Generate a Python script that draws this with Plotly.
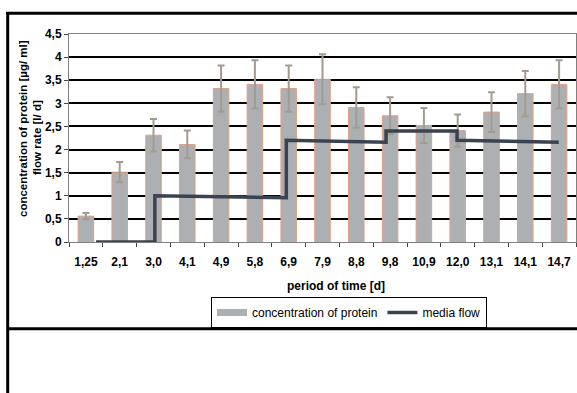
import plotly.graph_objects as go

# Sampling days (category labels)
days = ["1,25", "2,1", "3,0", "4,1", "4,9", "5,8", "6,9", "7,9",
        "8,8", "9,8", "10,9", "12,0", "13,1", "14,1", "14,7"]

# Protein concentration [µg/ml] and its standard deviation
protein = [0.56, 1.51, 2.31, 2.11, 3.32, 3.41, 3.32, 3.52,
           2.91, 2.73, 2.52, 2.41, 2.81, 3.21, 3.41]
protein_sd = [0.07, 0.22, 0.35, 0.30, 0.50, 0.52, 0.50, 0.54,
              0.44, 0.40, 0.38, 0.35, 0.43, 0.49, 0.52]

# Media flow rate [l/d], given as a step profile over the category positions
flow_pos = [0.30, 2.04, 2.04, 5.93, 5.93, 8.88, 8.88, 10.98, 10.98, 13.99]
flow_rate = [0.0, 0.0, 1.0, 0.96, 2.2, 2.16, 2.4, 2.4, 2.2, 2.16]

# y-axis ticks
y_ticks = [0, 0.5, 1, 1.5, 2, 2.5, 3, 3.5, 4, 4.5]
y_ticktext = ["0", "0,5", "1", "1,5", "2", "2,5", "3", "3,5", "4", "4,5"]

FONT = "Liberation Sans, Arial, sans-serif"
BAR_GRAY = "#adb0b3"
FLOW_COLOR = "#3a4350"

# plot area in pixels
W, H = 577, 393
L, R, T, B = 69, 1, 34, 151
PW, PH = W - L - R, H - T - B


def px_x(x):
    return (x - L) / PW


def px_y(y):
    return (H - B - y) / PH


fig = go.Figure()

fig.add_trace(go.Bar(
    x=days, y=protein,
    marker=dict(color=BAR_GRAY, line=dict(color="#e0a184", width=1)),
    width=0.46,
    error_y=dict(type="data", array=protein_sd, color="#a39b90",
                 thickness=2, width=3.5),
    showlegend=False,
))

# legend entry for the bars (wide swatch)
fig.add_trace(go.Scatter(
    x=[None], y=[None], mode="lines",
    line=dict(color=BAR_GRAY, width=7),
    name="concentration of protein", xaxis="x2",
))

fig.add_trace(go.Scatter(
    x=flow_pos, y=flow_rate, mode="lines",
    line=dict(color=FLOW_COLOR, width=3.5),
    name="media flow", xaxis="x2",
))

frame = dict(color="black", width=3)
shapes = [
    dict(type="line", xref="paper", yref="paper",
         x0=px_x(6), x1=1.01, y0=px_y(13.3), y1=px_y(13.3), line=frame),
    dict(type="line", xref="paper", yref="paper",
         x0=px_x(7.7), x1=px_x(7.7), y0=px_y(12), y1=px_y(400), line=frame),
    dict(type="line", xref="paper", yref="paper",
         x0=px_x(7.7), x1=1.01, y0=px_y(328.7), y1=px_y(328.7), line=frame),
]

title_font = dict(family=FONT, size=11.5, color="black", weight="bold")
annotations = [
    dict(text="period of time [d]", xref="paper", yref="paper",
         x=px_x(336), y=px_y(286), showarrow=False,
         xanchor="center", yanchor="middle",
         font=dict(family=FONT, size=12, color="black", weight="bold")),
    dict(text="concentration of protein [µg/ ml]", xref="paper", yref="paper",
         x=px_x(23), y=px_y(129), showarrow=False, textangle=-90,
         xanchor="center", yanchor="middle", font=title_font),
    dict(text="flow rate [l/ d]", xref="paper", yref="paper",
         x=px_x(37), y=px_y(138), showarrow=False, textangle=-90,
         xanchor="center", yanchor="middle", font=title_font),
]

fig.update_layout(
    width=W, height=H,
    margin=dict(l=L, r=R, t=T, b=B, pad=0),
    paper_bgcolor="white", plot_bgcolor="white",
    font=dict(family=FONT, color="black"),
    xaxis=dict(
        type="category", range=[-0.5, 14.5],
        tickson="boundaries", ticks="outside", ticklen=4, tickwidth=1,
        tickcolor="#444", showgrid=False, ticklabelstandoff=9,
        showline=True, linecolor="#7f7f7f", linewidth=1, mirror=True,
        tickfont=dict(family=FONT, size=12, color="black", weight="bold"),
    ),
    xaxis2=dict(overlaying="x", range=[-0.5, 14.5], visible=False),
    yaxis=dict(
        range=[0, 4.5], tickvals=y_ticks, ticktext=y_ticktext,
        ticks="outside", ticklen=4, tickwidth=1, tickcolor="#444",
        showgrid=True, gridcolor="black", gridwidth=2, zeroline=False,
        showline=True, linecolor="#7f7f7f", linewidth=1, mirror=True,
        tickfont=dict(family=FONT, size=12, color="black", weight="bold"),
    ),
    legend=dict(
        orientation="h", x=px_x(211), y=px_y(297),
        xanchor="left", yanchor="top",
        bordercolor="black", borderwidth=1, bgcolor="white",
        font=dict(family=FONT, size=12, color="black"),
        itemwidth=30, tracegroupgap=0,
    ),
    shapes=shapes,
    annotations=annotations,
    bargap=0.54,
)

fig.write_html("out.html")
